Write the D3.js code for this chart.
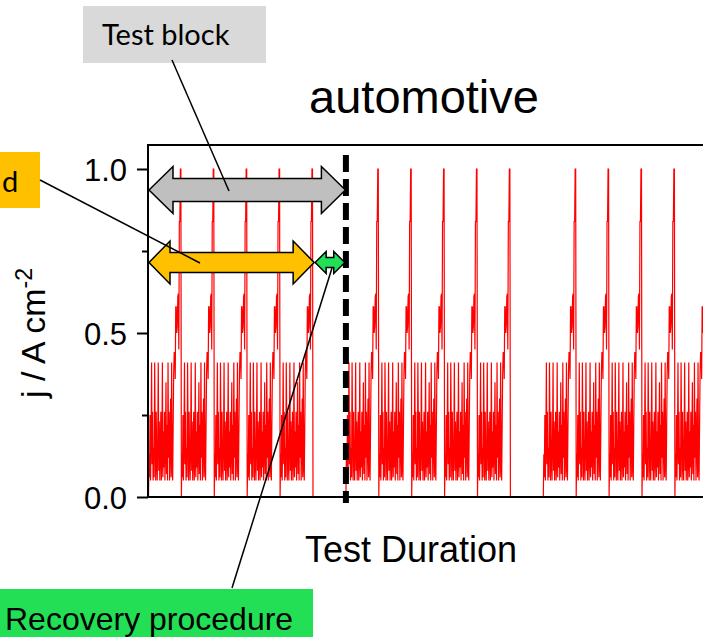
<!DOCTYPE html>
<html>
<head>
<meta charset="utf-8">
<script src="https://cdn.jsdelivr.net/npm/d3@7"></script>
<style>
    html, body { margin: 0; padding: 0; background: #fff; overflow: hidden; }
    svg { display: block; }
</style>
</head>
<body>
<svg id="chart" width="703" height="637"></svg>
<script>
// one drive cycle of current density j (A cm-2)
const cycleJ = [
    0.00, 0.13, 0.06, 0.25, 0.05, 0.18, 0.41, 0.10, 0.26, 0.05, 0.15, 0.06, 0.41, 0.20, 0.05, 0.26,
    0.11, 0.05, 0.18, 0.41, 0.08, 0.23, 0.05, 0.14, 0.26, 0.05, 0.12, 0.41, 0.06, 0.20, 0.09, 0.26,
    0.05, 0.16, 0.35, 0.07, 0.22, 0.05, 0.41, 0.12, 0.26, 0.05, 0.17, 0.30, 0.06, 0.41, 0.10, 0.05,
    0.22, 0.38, 0.44, 0.44, 0.36, 0.58, 0.58, 0.50, 0.52, 0.61, 0.62, 0.45, 0.84, 0.84, 1.00, 1.00, 0.00
];
const recoveryJ = [0.00, 0.00];
const blockPlan = ["cycle", "cycle", "cycle", "cycle", "cycle", "recovery"];
const blockCount = 3;

const yTicks = [0, 0.5, 1.0];
const yTickLabels = ["0.0", "0.5", "1.0"];
const yMinorTicks = [0.25, 0.75];

const chartTitle = "automotive";
const xTitle = "Test Duration";

const svg = d3.select("#chart");
const sans = "'Liberation Sans', Arial, sans-serif";
const office = "Lato, 'Open Sans', sans-serif";

const x = d3.scaleLinear().domain([0, 17]).range([148.5, 148.5 + 17 * 32.9]);
const y = d3.scaleLinear().domain([0, 1]).range([497, 169]);

// build the time series from the block plan
const series = [];
let t0 = 0;
for (let b = 0; b < blockCount; b++) {
    blockPlan.forEach(seg => {
        const vals = seg === "cycle" ? cycleJ : recoveryJ;
        vals.forEach((j, i) => series.push({ t: t0 + i / (vals.length - 1), j }));
        t0 += 1;
    });
}

svg.append("defs").append("clipPath").attr("id", "plot-clip")
    .append("rect").attr("x", 148).attr("y", 145).attr("width", 560).attr("height", 352);

svg.append("path").datum(series)
    .attr("clip-path", "url(#plot-clip)")
    .attr("fill", "none").attr("stroke", "#ff0000").attr("stroke-width", 1.2)
    .attr("d", d3.line().x(d => x(d.t)).y(d => y(d.j)));

// frame (right side runs off the picture)
svg.append("rect").attr("x", 148).attr("y", 145).attr("width", 700).attr("height", 352)
    .attr("fill", "none").attr("stroke", "#000").attr("stroke-width", 2);

const yAxis = svg.append("g").attr("transform", "translate(148,0)")
    .call(d3.axisLeft(y).tickValues(yTicks).tickFormat((d, i) => yTickLabels[i]).tickSize(11).tickPadding(10).tickSizeOuter(0));
yAxis.select(".domain").remove();
yAxis.selectAll("line").attr("stroke", "#000").attr("stroke-width", 2);
yAxis.selectAll("text").attr("font-family", sans).attr("font-size", 31).attr("fill", "#000").attr("dy", "0.36em");

const yMinor = svg.append("g").attr("transform", "translate(148,0)")
    .call(d3.axisLeft(y).tickValues(yMinorTicks).tickFormat("").tickSize(6).tickSizeOuter(0));
yMinor.select(".domain").remove();
yMinor.selectAll("line").attr("stroke", "#000").attr("stroke-width", 2);

// end of test block
svg.append("line").attr("x1", x(6)).attr("x2", x(6)).attr("y1", 155).attr("y2", 503)
    .attr("stroke", "#000").attr("stroke-width", 6).attr("stroke-dasharray", "17 7");

svg.append("text").attr("x", 424).attr("y", 113).attr("text-anchor", "middle")
    .attr("font-family", sans).attr("font-size", 47).text(chartTitle);
svg.append("text").attr("x", 411).attr("y", 562).attr("text-anchor", "middle")
    .attr("font-family", sans).attr("font-size", 36).text(xTitle);

const yLabel = svg.append("text").attr("transform", "translate(45,398) rotate(-90)")
    .attr("font-family", sans).attr("font-size", 34);
yLabel.append("tspan").text("j / A cm");
yLabel.append("tspan").attr("dy", -13).attr("font-size", 23).text("-2");

// annotation arrows
const doubleArrow = (x0, x1, yc, shaftH, headH, headL) => {
    const s = shaftH / 2, h = headH / 2;
    return `M${x0},${yc} L${x0 + headL},${yc - h} L${x0 + headL},${yc - s} L${x1 - headL},${yc - s} ` +
        `L${x1 - headL},${yc - h} L${x1},${yc} L${x1 - headL},${yc + h} L${x1 - headL},${yc + s} ` +
        `L${x0 + headL},${yc + s} L${x0 + headL},${yc + h} Z`;
};
const arrows = [
    { from: 0, to: 6, j: 0.936, shaft: 23, head: 47, len: 24, fill: "#bfbfbf" },
    { from: 0, to: 5.05, j: 0.715, shaft: 20, head: 43, len: 21, fill: "#ffc000" },
    { from: 5.05, to: 5.98, j: 0.715, shaft: 10, head: 22, len: 11, fill: "#22df55" }
];
arrows.forEach(a => svg.append("path")
    .attr("d", doubleArrow(x(a.from) + 0.5, x(a.to) - 0.5, y(a.j), a.shaft, a.head, a.len))
    .attr("fill", a.fill).attr("stroke", "#000").attr("stroke-width", 1.5).attr("stroke-linejoin", "miter"));

// callout boxes
const box = (bx, by, bw, bh, fill) => svg.append("rect").attr("x", bx).attr("y", by)
    .attr("width", bw).attr("height", bh).attr("fill", fill);
box(83, 6, 183, 57, "#d9d9d9");
svg.append("text").attr("x", 102).attr("y", 45).attr("font-family", office).attr("font-size", 29).text("Test block");
box(-10, 152, 50, 56, "#ffc000");
svg.append("text").attr("x", 2).attr("y", 192).attr("font-family", office).attr("font-size", 29).text("d");
box(0, 589, 313, 60, "#22df55");
svg.append("text").attr("x", 5).attr("y", 630).attr("font-family", sans).attr("font-size", 32).text("Recovery procedure");

// leader lines
const leaders = [[172, 60, 229, 191], [40, 180, 200, 263], [232, 588, 332, 268]];
leaders.forEach(([x1, y1, x2, y2]) => svg.append("line")
    .attr("x1", x1).attr("y1", y1).attr("x2", x2).attr("y2", y2)
    .attr("stroke", "#000").attr("stroke-width", 1.5));
</script>
</body>
</html>
